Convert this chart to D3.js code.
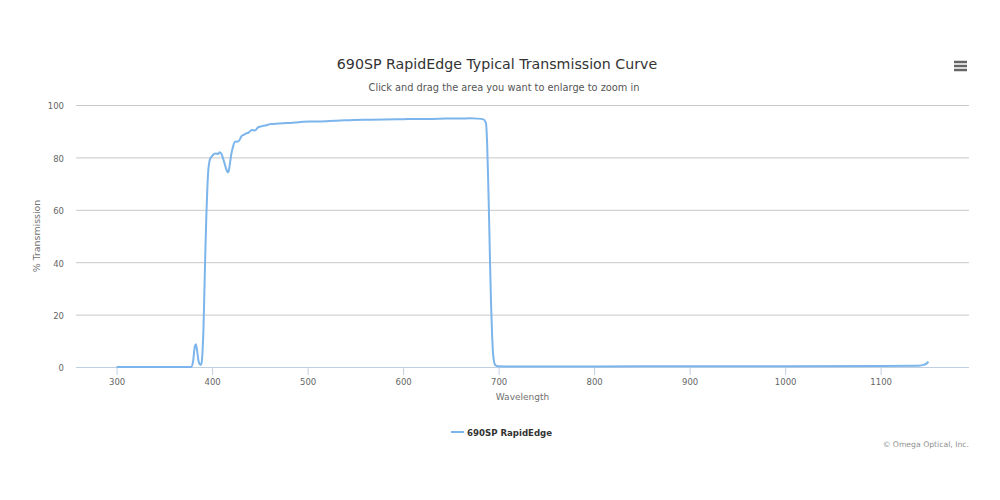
<!DOCTYPE html>
<html>
<head>
<meta charset="utf-8">
<script src="https://cdn.jsdelivr.net/npm/d3@7"></script>
<style>
  html, body { margin: 0; padding: 0; background: #fff; }
  svg { display: block; font-family: "DejaVu Sans", "Lucida Grande", sans-serif; }
</style>
</head>
<body>
<svg id="chart" width="1000" height="500"></svg>
<script>
const titleText = "690SP RapidEdge Typical Transmission Curve";
const subtitleText = "Click and drag the area you want to enlarge to zoom in";
const seriesName = "690SP RapidEdge";
const xTitle = "Wavelength";
const yTitle = "% Transmission";
const creditText = "\u00A9 Omega Optical, Inc.";

const xTicks = [300, 400, 500, 600, 700, 800, 900, 1000, 1100];
const yTicks = [0, 20, 40, 60, 80, 100];

const wavelength = [300, 378, 380, 382, 383, 384, 386, 388, 389, 390, 391, 392, 393, 394, 395, 396, 397, 398, 400, 402, 404, 406, 408, 410, 412, 414, 416, 417, 418, 420, 421.5, 424, 427.5, 431, 433, 436, 438, 441.5, 445, 448.5, 451, 453.5, 457, 460.5, 470, 478, 487, 495, 510, 523, 535, 548, 565, 580, 600, 614, 630, 645, 660, 670, 678, 684, 686.7, 688, 689, 690, 691, 692, 693, 694, 695, 696, 698, 700, 720, 800, 900, 1000, 1100, 1140, 1145, 1148, 1150];
const transmission = [0, 0, 2, 8, 8.7, 7, 2, 0.8, 1.5, 6, 15, 30, 45, 58, 68, 75, 78, 79.5, 80.5, 81.3, 81.5, 81.3, 82, 81.2, 79, 76.5, 74.5, 74.3, 76, 81, 83.5, 86, 86.1, 88.2, 88.6, 89.2, 89.4, 90.5, 90.3, 91.6, 91.8, 92.1, 92.3, 92.7, 92.9, 93.1, 93.3, 93.6, 93.7, 93.9, 94.1, 94.3, 94.4, 94.5, 94.6, 94.7, 94.7, 94.8, 94.8, 94.9, 94.8, 94.5, 93.2, 85, 72, 57, 40, 25, 14, 6, 2.5, 1, 0.4, 0.3, 0.2, 0.2, 0.3, 0.3, 0.4, 0.5, 0.8, 1.3, 2];

const data = wavelength.map((w, i) => ({x: w, y: transmission[i]}));

const svg = d3.select("#chart");
const plotL = 76, plotR = 969, plotT = 105, plotB = 367;

const xMin = d3.min(wavelength), xMax = d3.max(wavelength);
const pad = (xMax - xMin) * 0.05;
const x = d3.scaleLinear().domain([xMin - pad, xMax + pad]).range([plotL, plotR]);
const y = d3.scaleLinear().domain([0, 100]).range([plotB, plotT]);

// title
svg.append("text").attr("x", 497).attr("y", 69).attr("text-anchor", "middle")
  .attr("fill", "#333333").style("font-size", "14.2px").text(titleText);
svg.append("text").attr("x", 504).attr("y", 91).attr("text-anchor", "middle")
  .attr("fill", "#555555").style("font-size", "9.8px").text(subtitleText);

// menu icon
[62, 66, 70].forEach(yy => {
  svg.append("line").attr("x1", 954).attr("x2", 967).attr("y1", yy).attr("y2", yy)
    .attr("stroke", "#666").attr("stroke-width", 2.5);
});

// gridlines
const yAxis = d3.axisLeft(y).tickValues(yTicks).tickSize(-(plotR - plotL)).tickPadding(12);
const gy = svg.append("g").attr("transform", `translate(${plotL},0)`).call(yAxis);
gy.select(".domain").remove();
gy.selectAll(".tick line").attr("stroke", "#c8c8c8").attr("stroke-width", 1);
gy.selectAll(".tick text").attr("fill", "#666").style("font-size", "8.5px")
  .attr("font-family", "DejaVu Sans, sans-serif").attr("dy", "0.45em");

// x axis
const xAxis = d3.axisBottom(x).tickValues(xTicks).tickFormat(d3.format("d")).tickSize(8).tickPadding(4);
const gx = svg.append("g").attr("transform", `translate(0,${plotB})`).call(xAxis);
gx.select(".domain").attr("stroke", "#c0d0e0").attr("d", `M${plotL},0.5H${plotR}`);
gx.selectAll(".tick line").attr("stroke", "#c0d0e0");
gx.selectAll(".tick text").attr("fill", "#666").style("font-size", "8.5px")
  .attr("font-family", "DejaVu Sans, sans-serif");

// axis titles
svg.append("text").attr("x", (plotL + plotR) / 2).attr("y", 400).attr("text-anchor", "middle")
  .attr("fill", "#707070").style("font-size", "9px").text(xTitle);
svg.append("text").attr("transform", `translate(40,236) rotate(-90)`).attr("text-anchor", "middle")
  .attr("fill", "#707070").style("font-size", "9.4px").text(yTitle);

// line
const line = d3.line().x(d => x(d.x)).y(d => y(d.y)).curve(d3.curveMonotoneX);
svg.append("path").datum(data).attr("d", line).attr("fill", "none")
  .attr("stroke", "#7cb5ec").attr("stroke-width", 2).attr("stroke-linejoin", "round");

// legend
svg.append("line").attr("x1", 451).attr("x2", 464).attr("y1", 432).attr("y2", 432)
  .attr("stroke", "#7cb5ec").attr("stroke-width", 2);
svg.append("text").attr("x", 467).attr("y", 435.5).attr("fill", "#333")
  .style("font-size", "8.6px").style("font-weight", "bold").text(seriesName);

// credits
svg.append("text").attr("x", 969).attr("y", 446.5).attr("text-anchor", "end")
  .attr("fill", "#909090").style("font-size", "7.7px").text(creditText);
</script>
</body>
</html>
